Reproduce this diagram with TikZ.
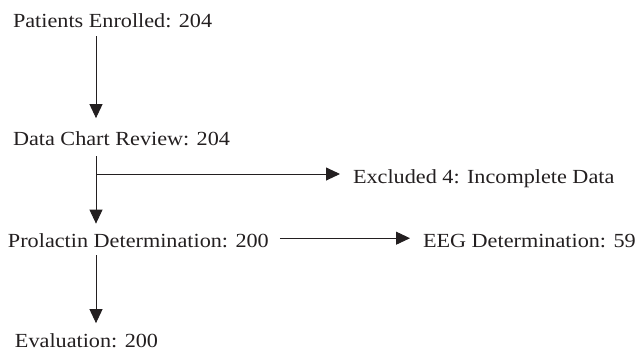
\documentclass[tikz,border=0pt]{standalone}
\usepackage{fontspec}
\setmainfont{Liberation Serif}[FakeStretch=1.11]
\usetikzlibrary{arrows.meta,calc}
\definecolor{ink}{HTML}{231F20}
\begin{document}
\begin{tikzpicture}[x=1pt,y=1pt,
  lbl/.style={anchor=base west,inner sep=0pt,outer sep=0pt,text=ink,font=\fontsize{20}{24}\selectfont},
  arr/.style={draw=ink,line width=0.9pt,-{Triangle[length=14pt,width=13pt]}},
  ln/.style={draw=ink,line width=0.9pt}]
\useasboundingbox (0,0) rectangle (638,-351);
\node[lbl] (pe)  at (13,-27)    {Patients Enrolled: 204};
\node[lbl] (dcr) at (13,-145)   {Data Chart Review: 204};
\node[lbl] (exc) at (353,-183)  {Excluded 4: Incomplete Data};
\node[lbl] (pd)  at (8,-247.5)  {Prolactin Determination: 200};
\node[lbl] (eeg) at (423,-247.5){EEG Determination: 59};
\node[lbl] (ev)  at (15,-347)   {Evaluation: 200};
\coordinate (spine) at (96,0);
\coordinate (br) at (96,-174);
\draw[arr,shorten <=9pt,shorten >=13pt] (pe.south -| spine) -- (dcr.north -| spine);
\draw[arr,shorten <=11pt,shorten >=10pt] (dcr.south -| spine) -- (pd.north -| spine);
\draw[arr,shorten >=13pt] (br) -- (br -| exc.west);
\draw[arr,shorten <=11pt,shorten >=13pt] ([yshift=2.5pt]pd.east) -- ([yshift=2.5pt]pd.east -| eeg.west);
\draw[arr,shorten <=7.5pt,shorten >=10pt] (pd.south -| spine) -- (ev.north -| spine);
\end{tikzpicture}
\end{document}
